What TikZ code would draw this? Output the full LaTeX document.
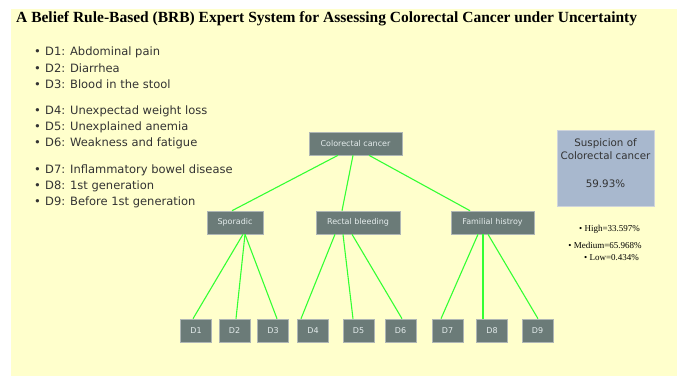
\documentclass[tikz,border=0pt]{standalone}
\usepackage{fontspec}
\setmainfont{Liberation Serif}
\newfontfamily\tahoma{DejaVu Sans}
\definecolor{paper}{HTML}{FFFFCC}
\definecolor{boxgrey}{HTML}{6B7B78}
\definecolor{boxtext}{HTML}{E4ECEC}
\definecolor{suspblue}{HTML}{A8B8CE}
\definecolor{linkgreen}{HTML}{33FF33}
\tikzset{
  brbnode/.style={draw=boxgrey!55!white, fill=boxgrey, text=boxtext, line width=0.6pt,
    font=\tahoma\fontsize{8}{10}\selectfont, minimum height=23pt, inner sep=0pt},
  link/.style={draw=linkgreen, line width=1.1pt},
  symptom/.style={anchor=west, font=\tahoma\fontsize{11.5}{13}\selectfont, text=black!80, inner sep=0pt},
  belief/.style={font=\fontsize{9}{11}\selectfont, inner sep=0pt}
}
\begin{document}
\begin{tikzpicture}[x=1pt,y=-1pt]
                    \fill[white] (0,0) rectangle (677,376);
                    \fill[paper] (11,9) rectangle (677,376);
                    \node[anchor=west, inner sep=0pt, font=\bfseries\fontsize{15.5}{18}\selectfont] (title) at (16,19)
                        {A Belief Rule-Based (BRB) Expert System for Assessing Colorectal Cancer under Uncertainty};
                    \foreach \y/\txt [count=\i] in {52/{D1: Abdominal pain}, 68/{D2: Diarrhea}, 84/{D3: Blood in the stool},
                        111/{D4: Unexpectad weight loss}, 127/{D5: Unexplained anemia}, 143/{D6: Weakness and fatigue},
                        170/{D7: Inflammatory bowel disease}, 186/{D8: 1st generation}, 202/{D9: Before 1st generation}}
                        \node[symptom] (sym\i) at (34,\y) {\makebox[11pt][l]{•}\txt};
                    \node[brbnode, minimum width=93pt] (root) at (355.5,143.5) {Colorectal cancer};
                    \node[brbnode, minimum width=56pt] (spor) at (235,222.5) {Sporadic};
                    \node[brbnode, minimum width=84pt] (rect) at (358,222.5) {Rectal bleeding};
                    \node[brbnode, minimum width=83pt] (fam) at (492.5,222.5) {Familial histroy};
                    \foreach \x [count=\i] in {196,234.5,273,313,358.5,400.5,447.5,492,537.5}
                        \node[brbnode, minimum width=31pt] (d\i) at (\x,330.5) {D\i};
                    \draw[link] ([xshift=-17.5pt]root.south) -- ([xshift=-3pt]spor.north);
                    \draw[link] ([xshift=-2.5pt]root.south) -- ([xshift=-16pt]rect.north);
                    \draw[link] ([xshift=13.5pt]root.south) -- ([xshift=-22.5pt]fam.north);
                    \draw[link] ([xshift=8pt]spor.south) -- ([xshift=-3pt]d1.north);
                    \draw[link] ([xshift=10pt]spor.south) -- ([xshift=1.5pt]d2.north);
                    \draw[link] ([xshift=10pt]spor.south) -- ([xshift=4pt]d3.north);
                    \draw[link] ([xshift=-23pt]rect.south) -- ([xshift=-12pt]d4.north);
                    \draw[link] ([xshift=-15pt]rect.south) -- ([xshift=-5.5pt]d5.north);
                    \draw[link] ([xshift=-6pt]rect.south) -- ([xshift=1.5pt]d6.north);
                    \draw[link] ([xshift=-14.5pt]fam.south) -- ([xshift=-6.5pt]d7.north);
                    \draw[link] ([xshift=-9.5pt]fam.south) -- ([xshift=-9pt]d8.north);
                    \draw[link] ([xshift=-4.5pt]fam.south) -- ([xshift=0.5pt]d9.north);
                    \node[draw=suspblue!80!black!40!white, fill=suspblue, minimum width=97pt, minimum height=76pt] (susp) at (605.5,168) {};
                    \node[align=center, inner sep=0pt, text=black!80, font=\tahoma\fontsize{10.3}{13}\selectfont] (susptxt) at (605.5,163.5)
                        {Suspicion of\\Colorectal cancer\\[15pt]59.93\%};
                    \node[belief] (high) at (609.5,229) {• High=33.597\%};
                    \node[belief] (medium) at (605,245) {• Medium=65.968\%};
                    \node[belief] (low) at (611.5,258) {• Low=0.434\%};
                \end{tikzpicture}
\end{document}
